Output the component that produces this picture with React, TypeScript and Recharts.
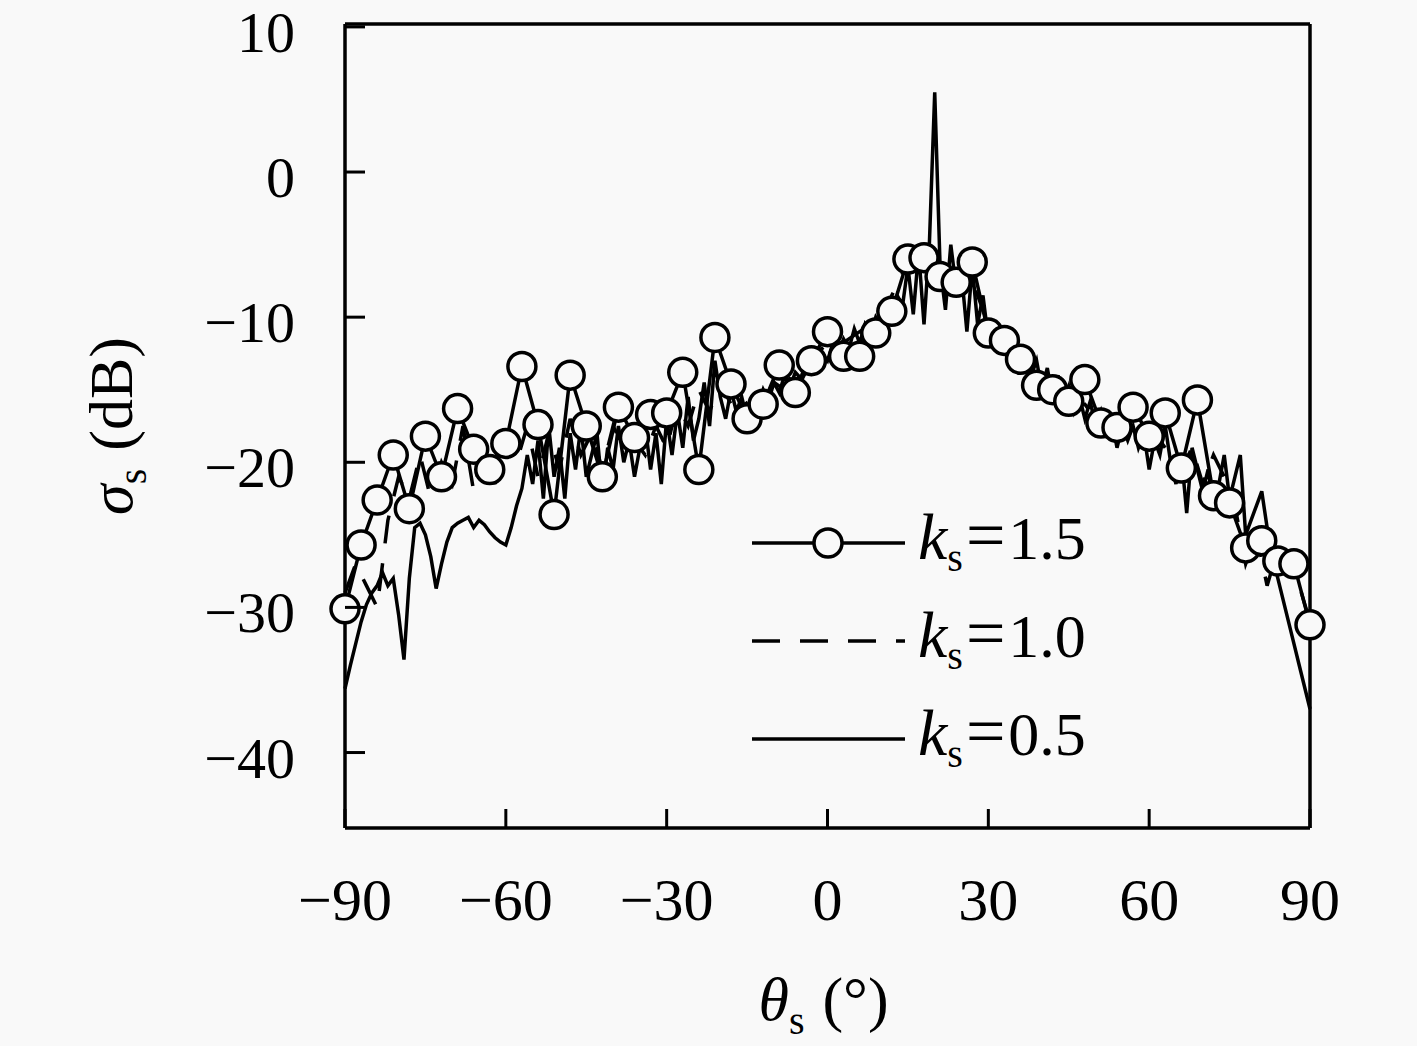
import React from 'react';
import { LineChart, Line, XAxis, YAxis, ReferenceLine, Legend } from 'recharts';

// sampling grids (degrees)
const range = (a: number, b: number, step: number) => {
  const out: number[] = [];
  for (let v = a; v <= b; v += step) out.push(v);
  return out;
};
const anglesFine = range(-90, 90, 1);
const anglesMid = range(-90, 90, 2);
const anglesCoarse = range(-90, 90, 3);

// sigma_s (dB), ks = 0.5, every 1 deg
const sigmaK05 = [
  -35.6, -34, -32.5, -31, -29.8, -29, -28.5, -27.6, -28.5, -28,
  -30.5, -33.6, -28, -24.5, -24.2, -25, -26.5, -28.7, -27, -25.5,
  -24.5, -24.2, -24, -23.8, -24.5, -24, -24.3, -24.8, -25.2, -25.5,
  -25.7, -24.5, -23, -21.8, -19.5, -21.5, -18.5, -22.5, -17.5, -21,
  -19, -22.5, -18, -20.5, -17.5, -21, -19.5, -18, -22, -19,
  -20.5, -17.5, -20, -18.5, -21, -19, -17.5, -20.5, -18, -21.5,
  -17, -19.5, -16.5, -19, -15.5, -18.5, -17, -14.5, -17.5, -13,
  -15.5, -17, -15, -16.5, -15.5, -17, -15.8, -16.2, -15, -15.8,
  -14.5, -15.2, -14, -14.8, -13.8, -14.2, -13.2, -13.8, -12.8, -12.5,
  -13, -11.8, -12.5, -11.5, -12.2, -10.8, -11.8, -10.5, -11.2, -10,
  -10.6, -9.3, -9.8, -8.5, -9.2, -6.5, -9.8, -5.5, -10.5, -5,
  5.5, -6.5, -9.5, -5, -8, -7, -11, -6.5, -10.5, -8.5,
  -11.5, -10.5, -12, -11.2, -12.5, -12, -13.5, -12.5, -14, -13,
  -15, -13.5, -15.5, -14, -16, -14.8, -16.5, -15.5, -17, -15.8,
  -17.5, -16.5, -18, -17, -19, -17.5, -18.5, -17.5, -19, -18,
  -20.5, -18.5, -19.5, -17.5, -20, -21.5, -19.5, -23.5, -19, -20.5,
  -22, -20.5, -23, -21.5, -19.5, -22.5, -21, -19.5, -25, -24,
  -23, -22, -24.5, -26.5, -28, -29.5, -31, -32.5, -34, -35.5, -37,
];

// ks = 1.0, every 2 deg
const sigmaK10 = [
  -29, -27, -28.5, -30, -24, -21, -22.5, -19.5, -22.5, -20,
  -21.5, -17.5, -22, -19, -21.5, -17, -20, -17.5, -21, -18,
  -20.5, -17, -19.5, -18, -20.5, -17.5, -19, -18.5, -19.5, -17.5,
  -19, -16, -17.5, -15, -16.5, -14.5, -16, -15.5, -16.5, -15,
  -14.5, -15, -13.5, -13.5, -12.5, -11.8, -12, -11.5, -11, -10.5,
  -10, -8.5, -7, -6.5, -5.5, -7.5, -6, -7.5, -7, -8.5,
  -10.5, -11.5, -12, -13, -14, -14.5, -15, -15.5, -16, -16,
  -17, -17.5, -17.5, -18, -18.5, -19, -18.5, -19.5, -20.5, -19,
  -21.5, -19.5, -21, -23, -27, -25, -28.5, -26, -27.5, -28.5, -31,
];

// ks = 1.5, every 3 deg
const sigmaK15 = [
  -30.1, -25.7, -22.6, -19.5, -23.2, -18.2, -21.0, -16.3, -19.1, -20.5,
  -18.7, -13.4, -17.4, -23.6, -14.0, -17.5, -21.0, -16.2, -18.3, -16.7,
  -16.6, -13.8, -20.5, -11.4, -14.6, -17.0, -16.0, -13.3, -15.2, -13.0,
  -11.0, -12.7, -12.7, -11.1, -9.6, -6.0, -5.9, -7.2, -7.6, -6.2,
  -11.1, -11.6, -12.9, -14.7, -15.0, -15.8, -14.3, -17.3, -17.6, -16.2,
  -18.2, -16.6, -20.4, -15.7, -22.3, -22.8, -25.9, -25.4, -26.8, -27.0,
  -31.2,
];

const xTicks = [-90, -60, -30, 0, 30, 60, 90];
const yTicks = [-40, -30, -20, -10, 0, 10];

const zip = (xs: number[], ys: number[]) => xs.map((x, i) => ({ x, y: ys[i] }));
const dataK15 = zip(anglesCoarse, sigmaK15);
const dataK10 = zip(anglesMid, sigmaK10);
const dataK05 = zip(anglesFine, sigmaK05);

const FONT = '"Liberation Serif", "DejaVu Serif", serif';
const BG = '#f9f9f9';
const LW = 3.5;

const fmt = (v: number) => (v < 0 ? '\u2212' + Math.abs(v) : String(v));

const XTick = (props: any) => {
  const { x, y, payload } = props;
  return (
    <g>
      <line x1={x} y1={y} x2={x} y2={y - 19} stroke="#000" strokeWidth={3} />
      <text x={x} y={y + 92} textAnchor="middle" fontSize={60} fontFamily={FONT} fill="#000">
        {fmt(payload.value)}
      </text>
    </g>
  );
};

const YTick = (props: any) => {
  const { x, y, payload } = props;
  return (
    <g>
      <line x1={x} y1={y} x2={x + 20} y2={y} stroke="#000" strokeWidth={3} />
      <text x={x - 50} y={y + 25} textAnchor="end" fontSize={58} fontFamily={FONT} fill="#000">
        {fmt(payload.value)}
      </text>
    </g>
  );
};

const XTitle = (props: any) => {
  const vb = props.viewBox;
  const cx = vb.x + vb.width / 2;
  return (
    <text x={cx - 4} y={vb.y + 192} textAnchor="middle" fontSize={62} fontFamily={FONT} fill="#000">
      <tspan fontStyle="italic">θ</tspan>
      <tspan fontSize={40} dy={14}>s</tspan>
      <tspan dy={-14} dx={18}>(°)</tspan>
    </text>
  );
};

const YTitle = (props: any) => {
  const vb = props.viewBox;
  const cy = vb.y + vb.height / 2;
  const bx = 132;
  return (
    <text
      x={bx}
      y={cy}
      transform={`rotate(-90, ${bx}, ${cy})`}
      textAnchor="middle"
      fontSize={62}
      fontFamily={FONT}
      fill="#000"
    >
      <tspan fontStyle="italic">σ</tspan>
      <tspan fontSize={40} dy={14}>s</tspan>
      <tspan dy={-14} dx={18}>(dB)</tspan>
    </text>
  );
};

const legendRows = [
  { label: '1.5', dash: undefined, dot: true },
  { label: '1.0', dash: '28 20', dot: false },
  { label: '0.5', dash: undefined, dot: false },
];

const renderLegend = () => (
  <svg width={420} height={300}>
    {legendRows.map((r, i) => {
      const y = 63 + i * 98;
      return (
        <g key={r.label}>
          <line x1={12} y1={y} x2={165} y2={y} stroke="#000" strokeWidth={LW} strokeDasharray={r.dash} />
          {r.dot && <circle cx={88} cy={y} r={14} fill={BG} stroke="#000" strokeWidth={LW} />}
          <text x={178} y={y + 16} fontSize={62} fontFamily={FONT} fill="#000">
            <tspan fontStyle="italic" fontSize={66}>k</tspan>
            <tspan fontSize={40} dy={12}>s</tspan>
            <tspan dy={-12} dx={3} fontSize={70}>=</tspan>
            <tspan dx={3}>{r.label}</tspan>
          </text>
        </g>
      );
    })}
  </svg>
);

export default function App() {
  return (
    <div style={{ position: 'absolute', left: 0, top: 0, width: 1417, height: 1046, background: BG }}>
      <LineChart width={1417} height={1046} margin={{ top: 24, right: 107, bottom: 0, left: 0 }}>
        <XAxis
          type="number"
          dataKey="x"
          domain={[-90, 90]}
          ticks={xTicks}
          height={218}
          tickSize={0}
          tickMargin={0}
          tickLine={false}
          axisLine={{ stroke: '#000', strokeWidth: 3.5 }}
          tick={(p: any) => <XTick {...p} />}
          interval={0}
          label={{ content: (p: any) => <XTitle {...p} /> }}
        />
        <YAxis
          type="number"
          dataKey="y"
          domain={[-45.2, 10.2]}
          ticks={yTicks}
          width={345}
          tickSize={0}
          tickMargin={0}
          tickLine={false}
          axisLine={{ stroke: '#000', strokeWidth: 3.5 }}
          tick={(p: any) => <YTick {...p} />}
          interval={0}
          label={{ content: (p: any) => <YTitle {...p} /> }}
        />
        <ReferenceLine y={10.2} stroke="#000" strokeWidth={3.5} />
        <ReferenceLine x={90} stroke="#000" strokeWidth={3.5} />
        <Line
          data={dataK15}
          dataKey="y"
          name="ks=1.5"
          type="linear"
          stroke="#000"
          strokeWidth={LW}
          dot={{ r: 14, fill: BG, stroke: '#000', strokeWidth: LW }}
          isAnimationActive={false}
        />
        <Line
          data={dataK10}
          dataKey="y"
          name="ks=1.0"
          type="linear"
          stroke="#000"
          strokeWidth={LW}
          strokeDasharray="28 20"
          dot={false}
          isAnimationActive={false}
        />
        <Line
          data={dataK05}
          dataKey="y"
          name="ks=0.5"
          type="linear"
          stroke="#000"
          strokeWidth={LW}
          dot={false}
          isAnimationActive={false}
        />
        <Legend
          layout="vertical"
          align="center"
          verticalAlign="middle"
          content={renderLegend}
          wrapperStyle={{ position: 'absolute', left: 740, top: 480, width: 420, height: 300 }}
        />
      </LineChart>
    </div>
  );
}
